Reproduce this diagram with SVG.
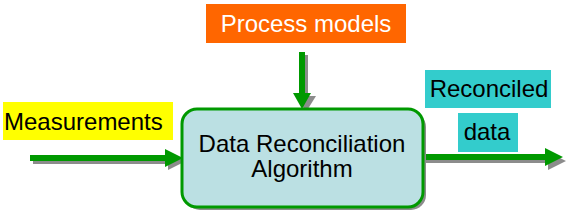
<svg xmlns="http://www.w3.org/2000/svg" width="570" height="215" viewBox="0 0 570 215">
<style>
.t{font-family:"Liberation Sans",Arial,sans-serif;font-size:24px;fill:#000}
.c{text-anchor:middle}
.arr{fill:#009900}
.sh{fill:#8c8c8c}
</style>
<rect width="570" height="215" fill="#fff"/>
<g id="connectors">
  <g id="arrow-measurements">
    <path class="sh" d="M33,158h135v6h-135z M168,152l18,9-18,9z"/>
    <path class="arr" d="M30,155h135v6h-135z M165,149l18,9-18,9z"/>
  </g>
  <g id="arrow-process">
    <path class="sh" d="M302,55h6v41h-6z M296,96h20l-10,16z"/>
    <path class="arr" d="M299,52h6v41h-6z M293,93h18l-9,16z"/>
  </g>
  <g id="arrow-reconciled">
    <path class="sh" d="M426,157h122v6h-122z M548,152l18,9-18,9z"/>
    <path class="arr" d="M423,154h122v6h-122z M545,148l18,9-18,9z"/>
  </g>
</g>
<g id="process-models">
  <rect x="206" y="4" width="200" height="39" fill="#ff6600"/>
  <text class="t c" x="306" y="32" style="fill:#fff">Process models</text>
</g>
<g id="measurements">
  <rect x="3" y="102" width="170" height="38" fill="#ffff00"/>
  <text class="t" x="4" y="130">Measurements</text>
</g>
<g id="algorithm">
  <rect x="185" y="112" width="241" height="98" rx="15" fill="#8c8c8c"/>
  <rect x="182" y="109" width="241" height="98" rx="15" fill="#bbe0e3" stroke="#009900" stroke-width="3"/>
  <text class="t c" x="302" y="152">Data Reconciliation</text>
  <text class="t c" x="302" y="177">Algorithm</text>
</g>
<g id="reconciled-data">
  <rect x="425" y="70" width="126" height="38" fill="#33cccc"/>
  <text class="t c" x="489" y="97">Reconciled</text>
  <rect x="458" y="113" width="60" height="39" fill="#33cccc"/>
  <text class="t c" x="487" y="140">data</text>
</g>
</svg>
